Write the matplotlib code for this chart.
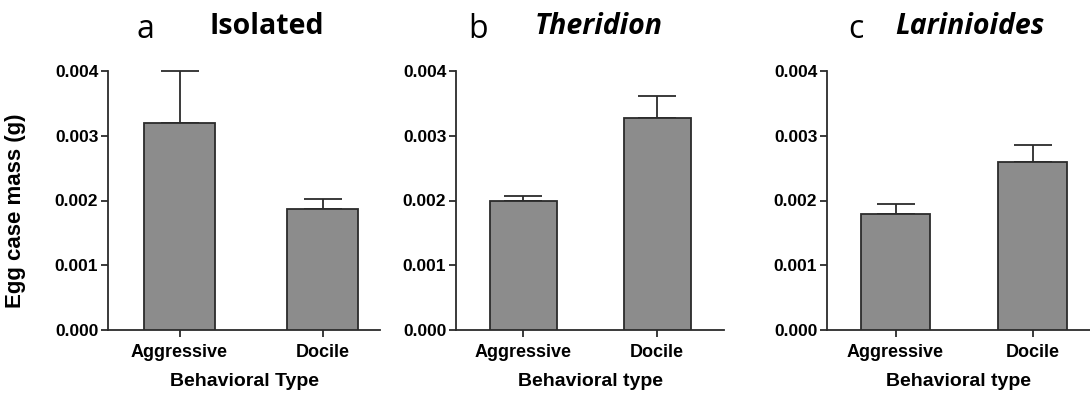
import matplotlib
matplotlib.use("Agg")
import matplotlib.pyplot as plt
from matplotlib.ticker import FormatStrFormatter

# data (mean and upper SE)
groups = ["Aggressive", "Docile"]
isolated_mean = [0.00320, 0.00187]
isolated_err = [0.00080, 0.00015]
theridion_mean = [0.00200, 0.00328]
theridion_err = [0.00007, 0.00034]
larinioides_mean = [0.00179, 0.00260]
larinioides_err = [0.00016, 0.00026]

letters = ["a", "b", "c"]
titles = ["Isolated", "Theridion", "Larinioides"]
title_styles = ["normal", "italic", "italic"]
xlabels = ["Behavioral Type", "Behavioral type", "Behavioral type"]

means = [isolated_mean, theridion_mean, larinioides_mean]
errs = [isolated_err, theridion_err, larinioides_err]

W, H = 1090, 395
fig = plt.figure(figsize=(W / 100, H / 100), dpi=100)

# axes boxes in pixels: left, right, bar-centre spacing
boxes = [(108, 380, 143), (456, 724, 134), (827, 1090, 137)]
y0, y4 = 330, 71
line_col = "#2b2b2b"

for i, (left, right, step) in enumerate(boxes):
    ax = fig.add_axes([left / W, (H - y0) / H, (right - left) / W, (y0 - y4) / H])
    x = list(range(len(groups)))
    ax.bar(x, means[i], width=0.5, color="#8c8c8c", edgecolor=line_col,
           linewidth=1.3, zorder=3)
    ax.errorbar(x, means[i], yerr=[[0] * len(groups), errs[i]], fmt="none",
                ecolor=line_col, elinewidth=1.3, capsize=14, capthick=1.3,
                zorder=2, clip_on=False)
    ax.set_xlim(-0.5, -0.5 + (right - left) / step)
    ax.set_ylim(0, 0.004)
    ax.set_yticks([0, 0.001, 0.002, 0.003, 0.004])
    ax.yaxis.set_major_formatter(FormatStrFormatter("%.3f"))
    ax.set_xticks(x)
    ax.set_xticklabels(groups)
    for lab in ax.get_yticklabels():
        lab.set_fontfamily("Liberation Sans")
        lab.set_fontweight("bold")
        lab.set_fontsize(12.5)
    for lab in ax.get_xticklabels():
        lab.set_fontfamily("Liberation Sans")
        lab.set_fontweight("bold")
        lab.set_fontsize(13)
    ax.tick_params(axis="y", direction="out", length=5, width=1.3,
                   color=line_col, pad=2)
    ax.tick_params(axis="x", direction="out", length=5, width=1.3,
                   color=line_col, pad=5)
    ax.spines["top"].set_visible(False)
    ax.spines["right"].set_visible(False)
    for s in ["left", "bottom"]:
        ax.spines[s].set_linewidth(1.3)
        ax.spines[s].set_color(line_col)
    ax.set_xlabel(xlabels[i], fontfamily="Liberation Sans", fontweight="bold",
                  fontsize=14, labelpad=9)
    if i == 0:
        ax.set_ylabel("Egg case mass (g)", fontfamily="Liberation Sans",
                      fontweight="bold", fontsize=16)
        ax.yaxis.set_label_coords(-0.30, 0.46)

# panel letters and titles
letter_x = [137, 468, 848]
title_x = [210, 535, 895]
for i in range(3):
    fig.text(letter_x[i] / W, 1 - 30 / H, letters[i], fontfamily="Open Sans",
             fontsize=23, va="center", ha="left")
    fig.text(title_x[i] / W, 1 - 26 / H, titles[i], fontfamily="Open Sans",
             fontweight="bold", fontstyle=title_styles[i], fontsize=20.5,
             va="center", ha="left")

fig.savefig("out.png", dpi=100)
